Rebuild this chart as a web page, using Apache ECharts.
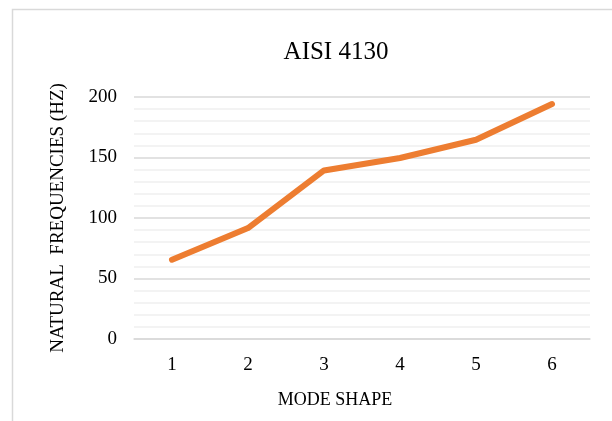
<!DOCTYPE html>
<html>
<head>
<meta charset="utf-8">
<script src="https://cdn.jsdelivr.net/npm/echarts@6/dist/echarts.min.js"></script>
<style>
  html, body { margin: 0; padding: 0; background: #fff; }
  #chart { width: 612px; height: 421px; }
</style>
</head>
<body>
<div id="chart"></div>
<script>
const titleText = 'AISI 4130';
const categories = ['1', '2', '3', '4', '5', '6'];
const frequencies = [65.5, 91.7, 139.3, 149.6, 164.7, 194.2];
const xAxisName = 'MODE SHAPE';
const yAxisName = 'NATURAL  FREQUENCIES (HZ)';

const FONT = '"Liberation Serif", "Times New Roman", serif';
const chart = echarts.init(document.getElementById('chart'), null, { renderer: 'canvas' });
chart.setOption({
  animation: false,
  backgroundColor: '#fff',
  graphic: [{
    type: 'rect',
    shape: { x: 12.5, y: 9.5, width: 700, height: 500 },
    style: { fill: 'none', stroke: '#d9d9d9', lineWidth: 1.5 },
    silent: true
  }],
  title: {
    text: titleText,
    left: 331,
    top: 35,
    textAlign: 'center',
    textStyle: { fontFamily: FONT, fontSize: 25, fontWeight: 'normal', color: '#000' }
  },
  grid: { left: 134, right: 22, top: 97, bottom: 82, containLabel: false },
  xAxis: {
    type: 'category',
    data: categories,
    boundaryGap: true,
    axisLine: { show: true, lineStyle: { color: '#d9d9d9', width: 1.5 } },
    axisTick: { show: false },
    axisLabel: { fontFamily: FONT, fontSize: 19, color: '#000', margin: 17 },
    name: xAxisName,
    nameLocation: 'middle',
    nameGap: 52,
    nameTextStyle: { fontFamily: FONT, fontSize: 18, color: '#000', padding: [0, 54, 0, 0] }
  },
  yAxis: {
    type: 'value',
    min: 0,
    max: 200,
    interval: 50,
    axisLine: { show: false },
    axisTick: { show: false },
    axisLabel: { fontFamily: FONT, fontSize: 19, color: '#000', margin: 17 },
    splitLine: { show: true, lineStyle: { color: '#d9d9d9', width: 1.5 } },
    minorTick: { show: false, splitNumber: 5 },
    minorSplitLine: { show: true, lineStyle: { color: '#f0f0f0', width: 1.5 } },
    name: yAxisName,
    nameLocation: 'middle',
    nameGap: 66,
    nameRotate: 90,
    nameTextStyle: { fontFamily: FONT, fontSize: 19, color: '#000' }
  },
  series: [{
    type: 'line',
    data: frequencies,
    showSymbol: false,
    symbol: 'none',
    lineStyle: { color: '#ED7D31', width: 6, cap: 'round', join: 'round' },
    itemStyle: { color: '#ED7D31' }
  }]
});
</script>
</body>
</html>
